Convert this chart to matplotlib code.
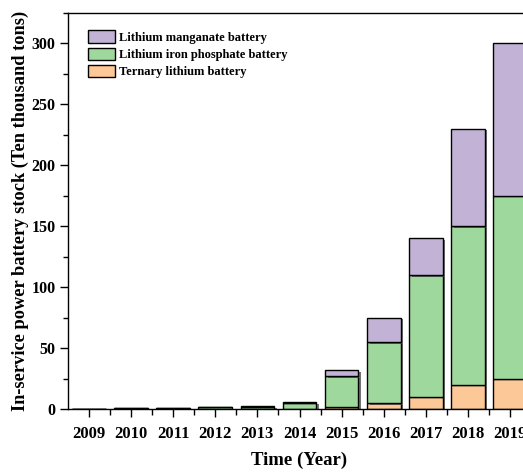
import matplotlib
matplotlib.use("Agg")
import matplotlib.pyplot as plt
import matplotlib.patheffects as pe
from matplotlib.ticker import MultipleLocator, FixedLocator
import numpy as np

plt.rcParams['font.family'] = ['Liberation Serif', 'DejaVu Serif']
plt.rcParams['font.weight'] = 'bold'

years = [2009, 2010, 2011, 2012, 2013, 2014, 2015, 2016, 2017, 2018, 2019]
ternary = [0.05, 0.05, 0.1, 0.1, 0.2, 0.3, 2, 5, 10, 20, 25]
lfp = [0.3, 0.5, 0.8, 1.2, 1.8, 5.0, 25, 50, 100, 130, 150]
lmo = [0.05, 0.05, 0.1, 0.1, 0.1, 0.2, 5, 20, 30, 80, 125]

labels = ['Lithium manganate battery', 'Lithium iron phosphate battery',
          'Ternary lithium battery']
colors = {'lmo': '#C2B2D6', 'lfp': '#9ED89C', 'ter': '#FDC897'}

fig = plt.figure(figsize=(5.23, 4.72), dpi=100)
ax = fig.add_axes([68 / 523, 63 / 472, 463 / 523, 396 / 472])

x = np.array(years)
ter = np.array(ternary)
fe = np.array(lfp)
mn = np.array(lmo)

shadow = [pe.SimplePatchShadow(offset=(2.0, -1.2), shadow_rgbFace='#444444', alpha=0.75),
          pe.Normal()]
kw = dict(width=0.8, edgecolor='black', linewidth=1.0)

b1 = ax.bar(x, ter, color=colors['ter'], label=labels[2], **kw)
b2 = ax.bar(x, fe, bottom=ter, color=colors['lfp'], label=labels[1], **kw)
b3 = ax.bar(x, mn, bottom=ter + fe, color=colors['lmo'], label=labels[0], **kw)
for bars in (b1, b2, b3):
    for p in bars:
        p.set_path_effects(shadow)

ax.set_xlim(2008.5, 2019.5)
ax.set_ylim(0, 325)

ax.xaxis.set_major_locator(FixedLocator(years))
ax.xaxis.set_minor_locator(FixedLocator([y + 0.5 for y in years[:-1]]))
ax.yaxis.set_major_locator(MultipleLocator(50))
ax.yaxis.set_minor_locator(MultipleLocator(25))
ax.tick_params(axis='both', which='major', direction='out', length=6, width=1)
ax.tick_params(axis='both', which='minor', direction='out', length=3.5, width=1)
ax.tick_params(axis='x', which='minor', length=4)
ax.tick_params(axis='x', which='major', labelsize=12, pad=6.5)
ax.tick_params(axis='y', which='major', labelsize=11.5, pad=3)
for lab in ax.get_xticklabels() + ax.get_yticklabels():
    lab.set_fontweight('bold')

for s in ax.spines.values():
    s.set_linewidth(1.0)

ax.set_xlabel('Time (Year)', fontsize=13.5, fontweight='bold')
ax.xaxis.set_label_coords(0.5, -0.107)
ax.set_ylabel('In-service power battery stock (Ten thousand tons)',
              fontsize=13.2, fontweight='bold')
ax.yaxis.set_label_coords(-0.084, 0.5)

handles = [b3, b2, b1]
leg = ax.legend(handles, labels, loc='upper left', bbox_to_anchor=(0.027, 0.975),
                frameon=False, prop={'family': ['Liberation Serif'], 'weight': 'bold', 'size': 9},
                handlelength=2.15, handleheight=1.2, handletextpad=0.35,
                labelspacing=0.28, borderaxespad=0.2)
for h in leg.legend_handles:
    h.set_path_effects([])

fig.savefig('out.png', dpi=100)
